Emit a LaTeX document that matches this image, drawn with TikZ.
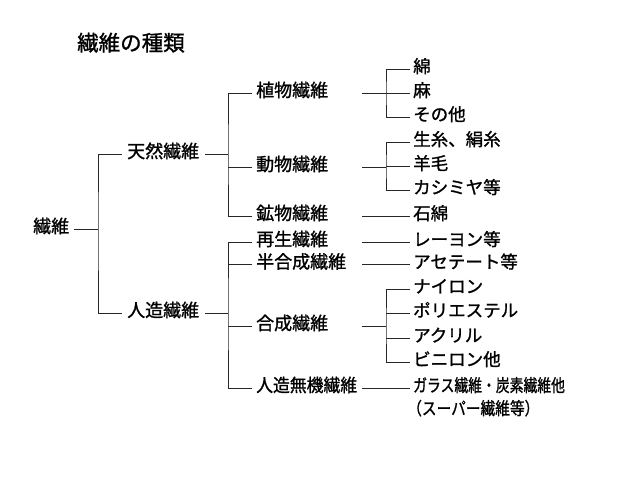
\documentclass[tikz,border=0pt]{standalone}
\usepackage{fontspec}
\setmainfont{Noto Sans CJK JP}[FakeBold=1.2]
\newcommand\fsz[1]{\fontsize{#1pt}{#1pt}\selectfont}
\begin{document}
\begin{tikzpicture}[x=1pt,y=-1pt,
  conn/.style={line width=0.8pt, black!85},
  base/.style={anchor=west, inner ysep=0pt, text height=0.83em, text depth=0.07em, align=left},
  lvlzero/.style={base, inner xsep=5pt, text width=36pt, font=\fsz{18}},
  lvlone/.style={base, inner xsep=5pt, text width=73pt, font=\fsz{18}},
  lvltwo/.style={base, inner xsep=4pt, text width=102pt, font=\fsz{18}},
  leaf/.style={base, inner xsep=3pt, font=\fsz{17.5}},
  titlestyle/.style={base, inner xsep=0pt, font=\fsz{21.5}}]
\useasboundingbox (0,0) rectangle (640,480);
\node[titlestyle] (title) at (77,47) {繊維の種類};
% level 0
\node[lvlzero] (root) at (28,229) {繊維};
% level 1
\node[lvlone] (tennen) at (122,154) {天然繊維};
\node[lvlone] (jinzo) at (122,313) {人造繊維};
% level 2
\node[lvltwo] (plant) at (252,93) {植物繊維};
\node[lvltwo] (animal) at (252,167) {動物繊維};
\node[lvltwo] (mineral) at (252,216) {鉱物繊維};
\node[lvltwo] (saisei) at (252,242) {再生繊維};
\node[lvltwo] (hangosei) at (252,264.5) {半合成繊維};
\node[lvltwo] (gosei) at (252,326) {合成繊維};
\node[lvltwo] (muki) at (252,388) {\scalebox{0.935}[1]{人造無機繊維}};
% leaves
\node[leaf] (men) at (410,69) {綿};
\node[leaf] (asa) at (410,93) {麻};
\node[leaf] (sonota) at (410,117) {その他};
\node[leaf] (kiito) at (410,142) {生糸、絹糸};
\node[leaf] (yomo) at (410,166) {羊毛};
\node[leaf] (cashmere) at (410,190) {カシミヤ等};
\node[leaf] (sekimen) at (410,216) {石綿};
\node[leaf] (rayon) at (410,242) {レーヨン等};
\node[leaf] (acetate) at (410,264.5) {アセテート等};
\node[leaf] (nylon) at (410,289) {ナイロン};
\node[leaf] (polyester) at (410,313) {ポリエステル};
\node[leaf] (acryl) at (410,338) {アクリル};
\node[leaf] (vinylon) at (410,362) {ビニロン他};
\node[leaf] (glass) at (410,388) {\scalebox{0.79}[1]{ガラス繊維・炭素繊維他}};
\node[leaf, anchor=west] (super) at (404,411) {\scalebox{0.84}[1]{（スーパー繊維等）}};
% junctions
\coordinate (jzero) at (98,229);
\coordinate (jtennen) at (228,154);
\coordinate (jjinzo) at (228,313);
\coordinate (jplant) at (386,93);
\coordinate (janimal) at (386,167);
\coordinate (jgosei) at (386,326);
% connectors level 0-1
\draw[conn] (root.east) -- (jzero);
\draw[conn] (tennen.west) -| (jzero) |- (jinzo.west);
% level 1-2
\draw[conn] (tennen.east) -- (jtennen);
\draw[conn] (plant.west) -| (jtennen) |- (mineral.west);
\draw[conn] (animal.west) -- (animal.west -| jtennen);
\draw[conn] (jinzo.east) -- (jjinzo);
\draw[conn] (saisei.west) -| (jjinzo) |- (muki.west);
\draw[conn] (hangosei.west) -- (hangosei.west -| jjinzo);
\draw[conn] (gosei.west) -- (gosei.west -| jjinzo);
% level 2-3
\draw[conn] (plant.east) -- (jplant);
\draw[conn] (men.west) -| (jplant) |- (sonota.west);
\draw[conn] (asa.west) -- (asa.west -| jplant);
\draw[conn] (animal.east) -- (janimal);
\draw[conn] (kiito.west) -| (janimal) |- (cashmere.west);
\draw[conn] (yomo.west) -- (yomo.west -| janimal);
\draw[conn] (mineral.east) -- (sekimen.west);
\draw[conn] (saisei.east) -- (rayon.west);
\draw[conn] (hangosei.east) -- (acetate.west);
\draw[conn] (gosei.east) -- (jgosei);
\draw[conn] (nylon.west) -| (jgosei) |- (vinylon.west);
\draw[conn] (polyester.west) -- (polyester.west -| jgosei);
\draw[conn] (acryl.west) -- (acryl.west -| jgosei);
\draw[conn] (muki.east) -- (glass.west);
\end{tikzpicture}
\end{document}
